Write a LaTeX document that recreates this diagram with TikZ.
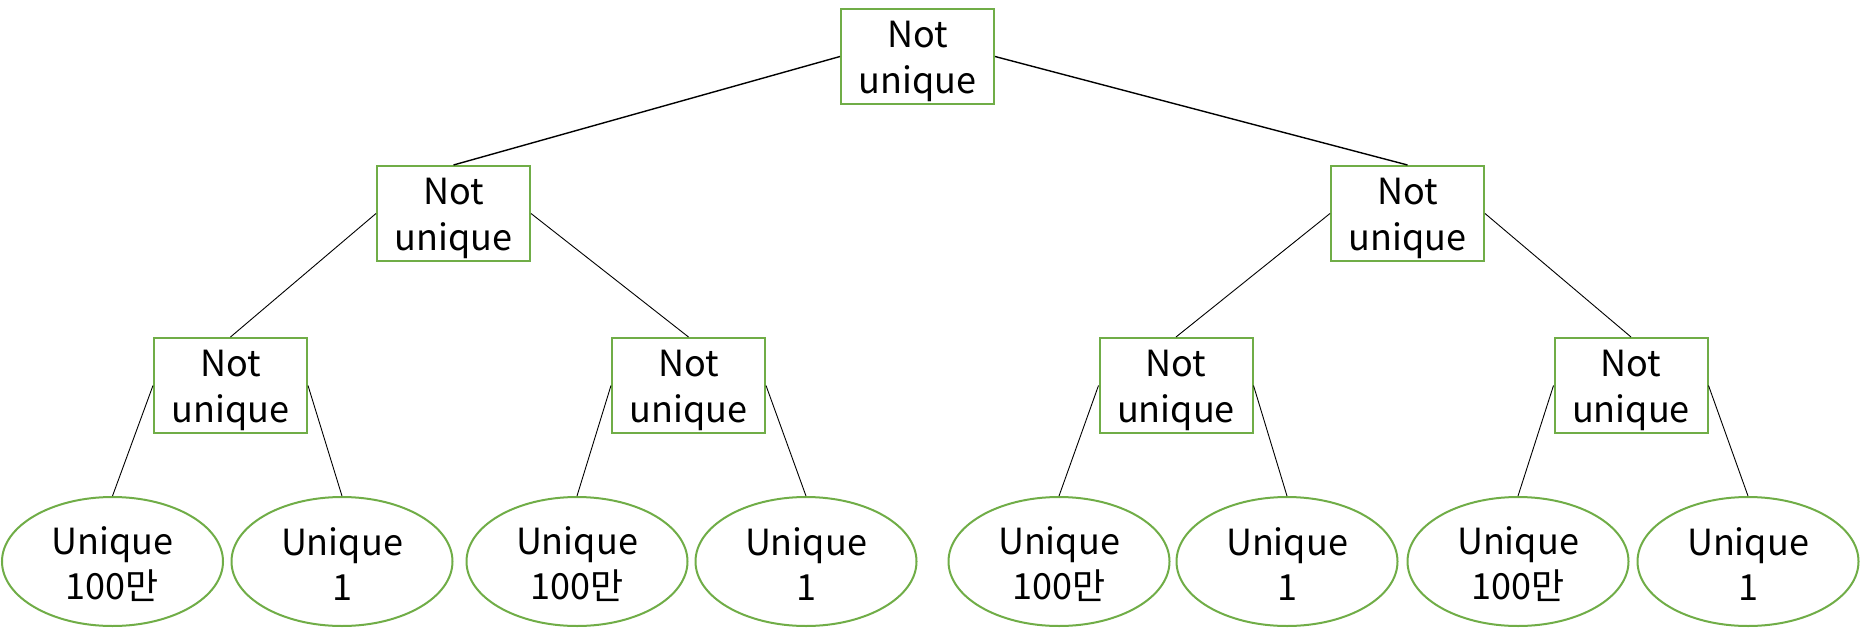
\documentclass[tikz,border=0pt]{standalone}
\usepackage{fontspec}
\setmainfont{Noto Sans CJK KR}
\usetikzlibrary{shapes.geometric}
\definecolor{boxgreen}{HTML}{70AD47}
\tikzset{
  nubox/.style={draw=boxgreen, line width=2pt, fill=white, rectangle, minimum width=153pt, minimum height=95pt, inner sep=0pt},
  uell/.style={draw=boxgreen, line width=2pt, fill=white, ellipse, minimum width=221pt, minimum height=129pt, inner sep=0pt},
  boxtext/.style={inner sep=0pt, align=center, font=\fontsize{36}{46.5}\selectfont},
  elltext/.style={inner sep=0pt, align=center, font=\fontsize{36}{45}\selectfont},
  topedge/.style={line width=1.4pt, black},
  edge/.style={line width=0.9pt, black}
}
\begin{document}
\begin{tikzpicture}[x=1pt,y=-1pt]
\useasboundingbox (0,0) rectangle (1861,629);
% shapes
\node[nubox] (r) at (917.5,56.5) {};
\node[nubox] (a) at (453.5,213.5) {};
\node[nubox] (b) at (1407.5,213.5) {};
\node[nubox] (a1) at (230.5,385.5) {};
\node[nubox] (a2) at (688.5,385.5) {};
\node[nubox] (b1) at (1176,385.5) {};
\node[nubox] (b2) at (1631,385.5) {};
\node[uell] (l1) at (112.5,561.5) {};
\node[uell] (l2) at (342,561.5) {};
\node[uell] (l3) at (577,561.5) {};
\node[uell] (l4) at (806,561.5) {};
\node[uell] (l5) at (1059,561.5) {};
\node[uell] (l6) at (1287,561.5) {};
\node[uell] (l7) at (1518,561.5) {};
\node[uell] (l8) at (1748,561.5) {};
% texts
\foreach \n in {r,a,b,a1,a2,b1,b2}
  \node[boxtext] (\n-t) at ([yshift=-5pt]\n.center) {Not\\unique};
\foreach \n in {l1,l3,l5,l7}
  \node[elltext] (\n-t) at ([yshift=-3pt]\n.center) {Unique\\100만};
\foreach \n in {l2,l4,l6,l8}
  \node[elltext] (\n-t) at ([yshift=-3pt]\n.center) {Unique\\1};
% edges
\draw[topedge] (r.west) -- (a.north);
\draw[topedge] (r.east) -- (b.north);
\draw[edge] (a.west) -- (a1.north);
\draw[edge] (a.east) -- (a2.north);
\draw[edge] (b.west) -- (b1.north);
\draw[edge] (b.east) -- (b2.north);
\draw[edge] (a1.west) -- (l1.north);
\draw[edge] (a1.east) -- (l2.north);
\draw[edge] (a2.west) -- (l3.north);
\draw[edge] (a2.east) -- (l4.north);
\draw[edge] (b1.west) -- (l5.north);
\draw[edge] (b1.east) -- (l6.north);
\draw[edge] (b2.west) -- (l7.north);
\draw[edge] (b2.east) -- (l8.north);
\end{tikzpicture}
\end{document}
